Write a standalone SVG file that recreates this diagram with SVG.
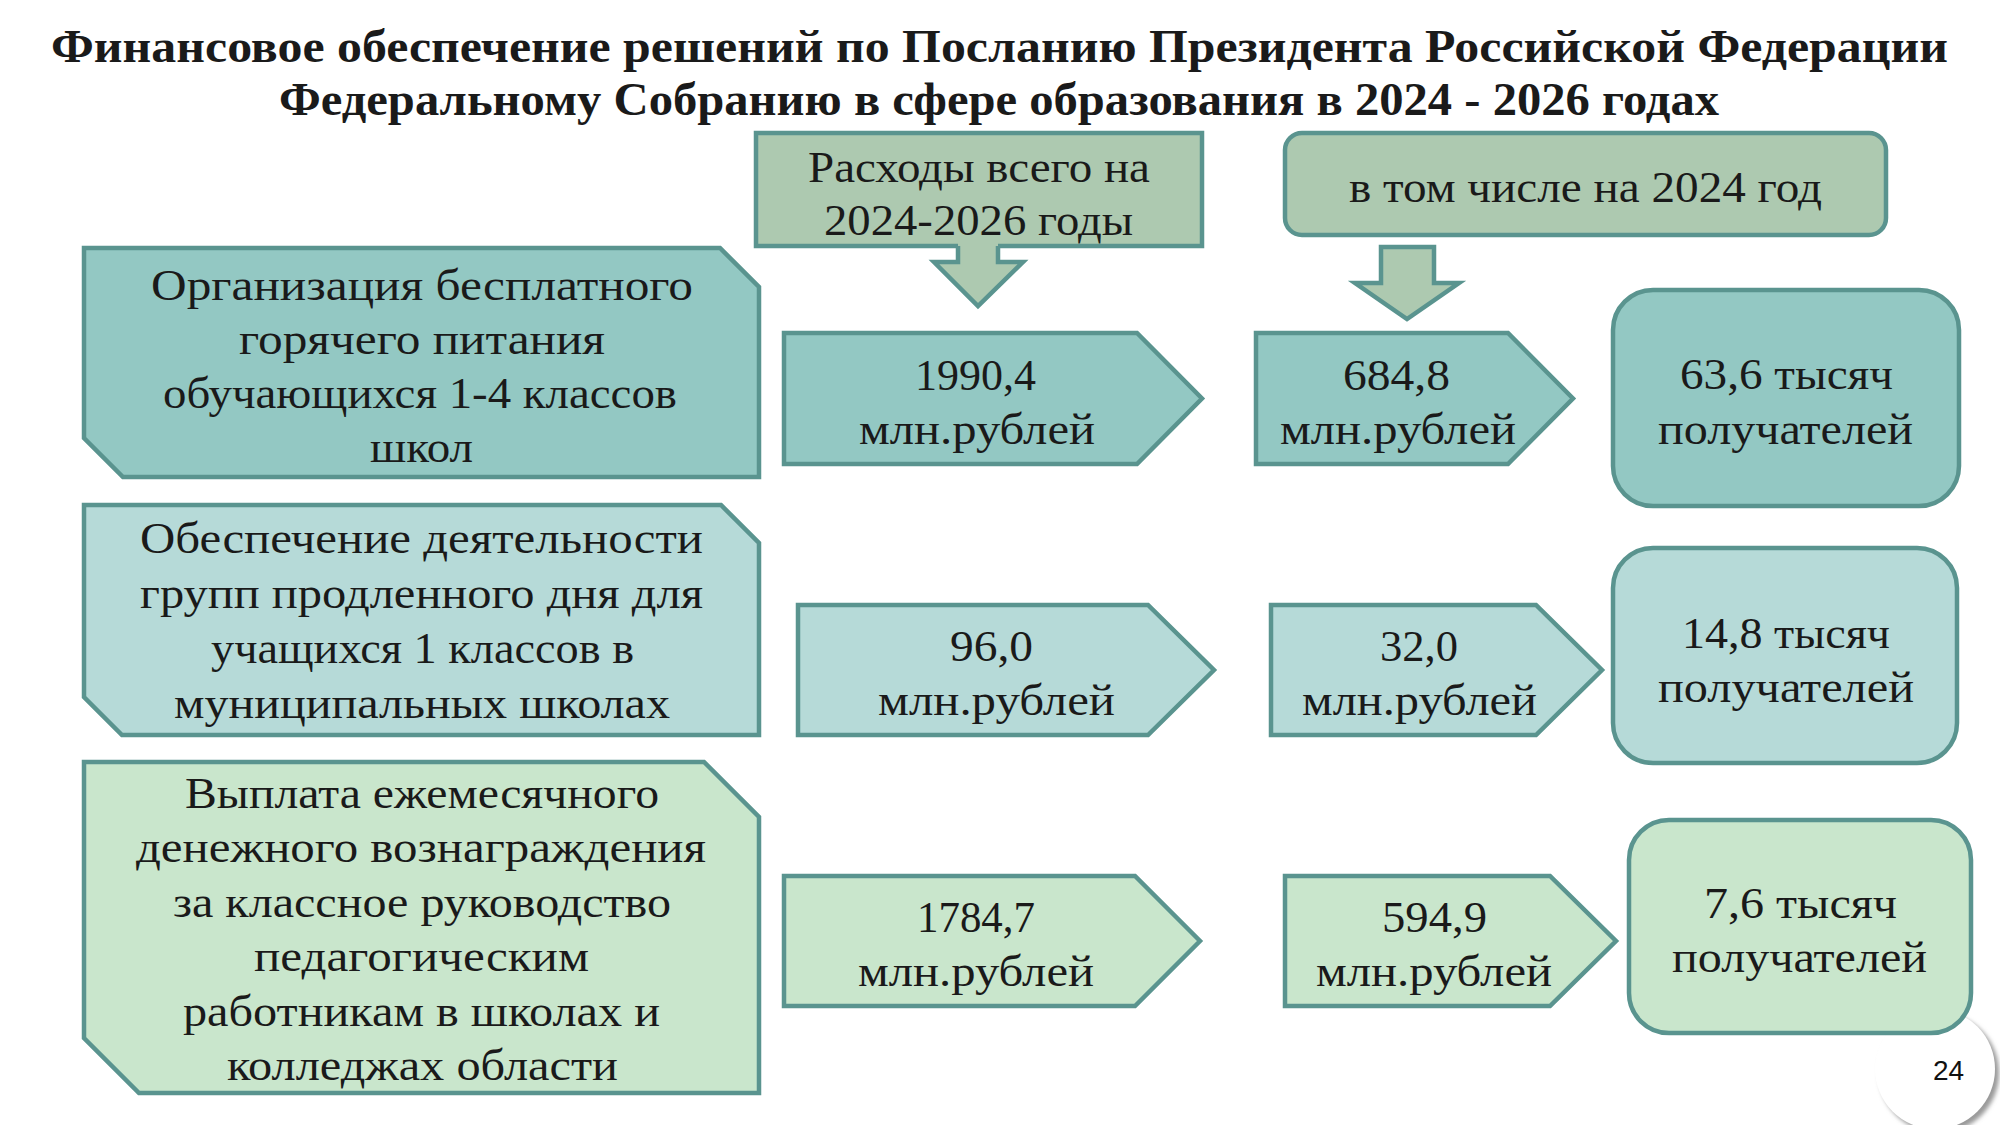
<svg xmlns="http://www.w3.org/2000/svg" width="2000" height="1125" viewBox="0 0 2000 1125">
<defs>
<style>
.t{font-family:"Liberation Serif","DejaVu Serif",serif;font-size:44px;fill:#1a1a1a}
.title{font-family:"Liberation Serif","DejaVu Serif",serif;font-size:46px;font-weight:bold;fill:#1a1a1a}
.s{stroke:#5a948f;stroke-width:4.5;stroke-linejoin:miter}
.c1{fill:#93c8c3}
.c2{fill:#b6dad8}
.c3{fill:#c9e6cc}
.hd{fill:#adc9b0}
.pn{font-family:"Liberation Sans",Arial,sans-serif;font-size:28px;fill:#111}
</style>
<filter id="sh" x="-20%" y="-20%" width="140%" height="140%">
<feGaussianBlur stdDeviation="2"/>
</filter>
</defs>
<rect width="2000" height="1125" fill="#ffffff"/>

<g id="title">
<text class="title" x="51" y="62" textLength="1897" lengthAdjust="spacingAndGlyphs">Финансовое обеспечение решений по Посланию Президента Российской Федерации</text>
<text class="title" x="279" y="115" textLength="1440" lengthAdjust="spacingAndGlyphs">Федеральному Собранию в сфере образования в 2024 - 2026 годах</text>
</g>

<g id="page-number">
<circle cx="1939" cy="1073" r="60" fill="#9a9a9a" filter="url(#sh)"/>
<circle cx="1935" cy="1069" r="60" fill="#ffffff"/>
<text class="pn" x="1933" y="1080">24</text>
</g>

<g id="header-total">
<rect class="hd s" x="756" y="133" width="446" height="113"/>
<text class="t" x="808" y="182" textLength="342" lengthAdjust="spacingAndGlyphs">Расходы всего на</text>
<text class="t" x="824" y="235" textLength="309" lengthAdjust="spacingAndGlyphs">2024-2026 годы</text>
</g>

<g id="header-2024">
<rect class="hd s" x="1285" y="133" width="601" height="102" rx="17" ry="17"/>
<text class="t" x="1349" y="202" textLength="473" lengthAdjust="spacingAndGlyphs">в том числе на 2024 год</text>
</g>

<g id="connectors">
<polygon class="hd" points="958,242 998,242 998,262 1023,262 978,306 934,262 958,262"/>
<path class="s" fill="none" d="M958,246 V262 H934 L978,306 L1023,262 H998 V246"/>
<polygon class="hd s" points="1381,247 1434,247 1434,283 1459,283 1407,319 1355,283 1381,283"/>
</g>

<g id="row1-name">
<path class="c1 s" d="M84,248 H720 L759,287 V477 H123 L84,438 Z"/>
<text class="t" x="151" y="300" textLength="542" lengthAdjust="spacingAndGlyphs">Организация бесплатного</text>
<text class="t" x="239" y="354" textLength="366" lengthAdjust="spacingAndGlyphs">горячего питания</text>
<text class="t" x="163" y="408" textLength="514" lengthAdjust="spacingAndGlyphs">обучающихся 1-4 классов</text>
<text class="t" x="370" y="462" textLength="103" lengthAdjust="spacingAndGlyphs">школ</text>
</g>

<g id="row1-total">
<path class="c1 s" d="M784,333 H1137 L1202,398.5 L1137,464 H784 Z"/>
<text class="t" x="915" y="390" textLength="121" lengthAdjust="spacingAndGlyphs">1990,4</text>
<text class="t" x="859" y="444" textLength="236" lengthAdjust="spacingAndGlyphs">млн.рублей</text>
</g>

<g id="row1-2024">
<path class="c1 s" d="M1256,333 H1508 L1573,398.5 L1508,464 H1256 Z"/>
<text class="t" x="1343" y="390" textLength="107" lengthAdjust="spacingAndGlyphs">684,8</text>
<text class="t" x="1280" y="444" textLength="236" lengthAdjust="spacingAndGlyphs">млн.рублей</text>
</g>

<g id="row1-recipients">
<rect class="c1 s" x="1613" y="290" width="346" height="216" rx="40" ry="40"/>
<text class="t" x="1680" y="389" textLength="213" lengthAdjust="spacingAndGlyphs">63,6 тысяч</text>
<text class="t" x="1658" y="444" textLength="255" lengthAdjust="spacingAndGlyphs">получателей</text>
</g>

<g id="row2-name">
<path class="c2 s" d="M84,505 H721 L759,543 V735 H122 L84,697 Z"/>
<text class="t" x="140" y="553" textLength="563" lengthAdjust="spacingAndGlyphs">Обеспечение деятельности</text>
<text class="t" x="140" y="608" textLength="563" lengthAdjust="spacingAndGlyphs">групп продленного дня для</text>
<text class="t" x="211" y="663" textLength="423" lengthAdjust="spacingAndGlyphs">учащихся 1 классов в</text>
<text class="t" x="174" y="718" textLength="496" lengthAdjust="spacingAndGlyphs">муниципальных школах</text>
</g>

<g id="row2-total">
<path class="c2 s" d="M798,605 H1148 L1214,670 L1148,735 H798 Z"/>
<text class="t" x="950" y="661" textLength="83" lengthAdjust="spacingAndGlyphs">96,0</text>
<text class="t" x="878" y="715" textLength="237" lengthAdjust="spacingAndGlyphs">млн.рублей</text>
</g>

<g id="row2-2024">
<path class="c2 s" d="M1271,605 H1536 L1602,670 L1536,735 H1271 Z"/>
<text class="t" x="1380" y="661" textLength="78" lengthAdjust="spacingAndGlyphs">32,0</text>
<text class="t" x="1302" y="715" textLength="235" lengthAdjust="spacingAndGlyphs">млн.рублей</text>
</g>

<g id="row2-recipients">
<rect class="c2 s" x="1613" y="548" width="344" height="215" rx="40" ry="40"/>
<text class="t" x="1682" y="648" textLength="208" lengthAdjust="spacingAndGlyphs">14,8 тысяч</text>
<text class="t" x="1658" y="702" textLength="256" lengthAdjust="spacingAndGlyphs">получателей</text>
</g>

<g id="row3-name">
<path class="c3 s" d="M84,762 H704 L759,817 V1093 H139 L84,1038 Z"/>
<text class="t" x="185" y="808" textLength="474" lengthAdjust="spacingAndGlyphs">Выплата ежемесячного</text>
<text class="t" x="136" y="862" textLength="570" lengthAdjust="spacingAndGlyphs">денежного вознаграждения</text>
<text class="t" x="173" y="917" textLength="498" lengthAdjust="spacingAndGlyphs">за классное руководство</text>
<text class="t" x="254" y="971" textLength="335" lengthAdjust="spacingAndGlyphs">педагогическим</text>
<text class="t" x="183" y="1026" textLength="477" lengthAdjust="spacingAndGlyphs">работникам в школах и</text>
<text class="t" x="227" y="1080" textLength="391" lengthAdjust="spacingAndGlyphs">колледжах области</text>
</g>

<g id="row3-total">
<path class="c3 s" d="M784,876 H1135 L1200,941 L1135,1006 H784 Z"/>
<text class="t" x="917" y="932" textLength="118" lengthAdjust="spacingAndGlyphs">1784,7</text>
<text class="t" x="858" y="986" textLength="236" lengthAdjust="spacingAndGlyphs">млн.рублей</text>
</g>

<g id="row3-2024">
<path class="c3 s" d="M1285,876 H1550 L1616,941 L1550,1006 H1285 Z"/>
<text class="t" x="1382" y="932" textLength="105" lengthAdjust="spacingAndGlyphs">594,9</text>
<text class="t" x="1316" y="986" textLength="236" lengthAdjust="spacingAndGlyphs">млн.рублей</text>
</g>

<g id="row3-recipients">
<rect class="c3 s" x="1629" y="820" width="342" height="213" rx="40" ry="40"/>
<text class="t" x="1704" y="918" textLength="193" lengthAdjust="spacingAndGlyphs">7,6 тысяч</text>
<text class="t" x="1672" y="972" textLength="255" lengthAdjust="spacingAndGlyphs">получателей</text>
</g>
</svg>
